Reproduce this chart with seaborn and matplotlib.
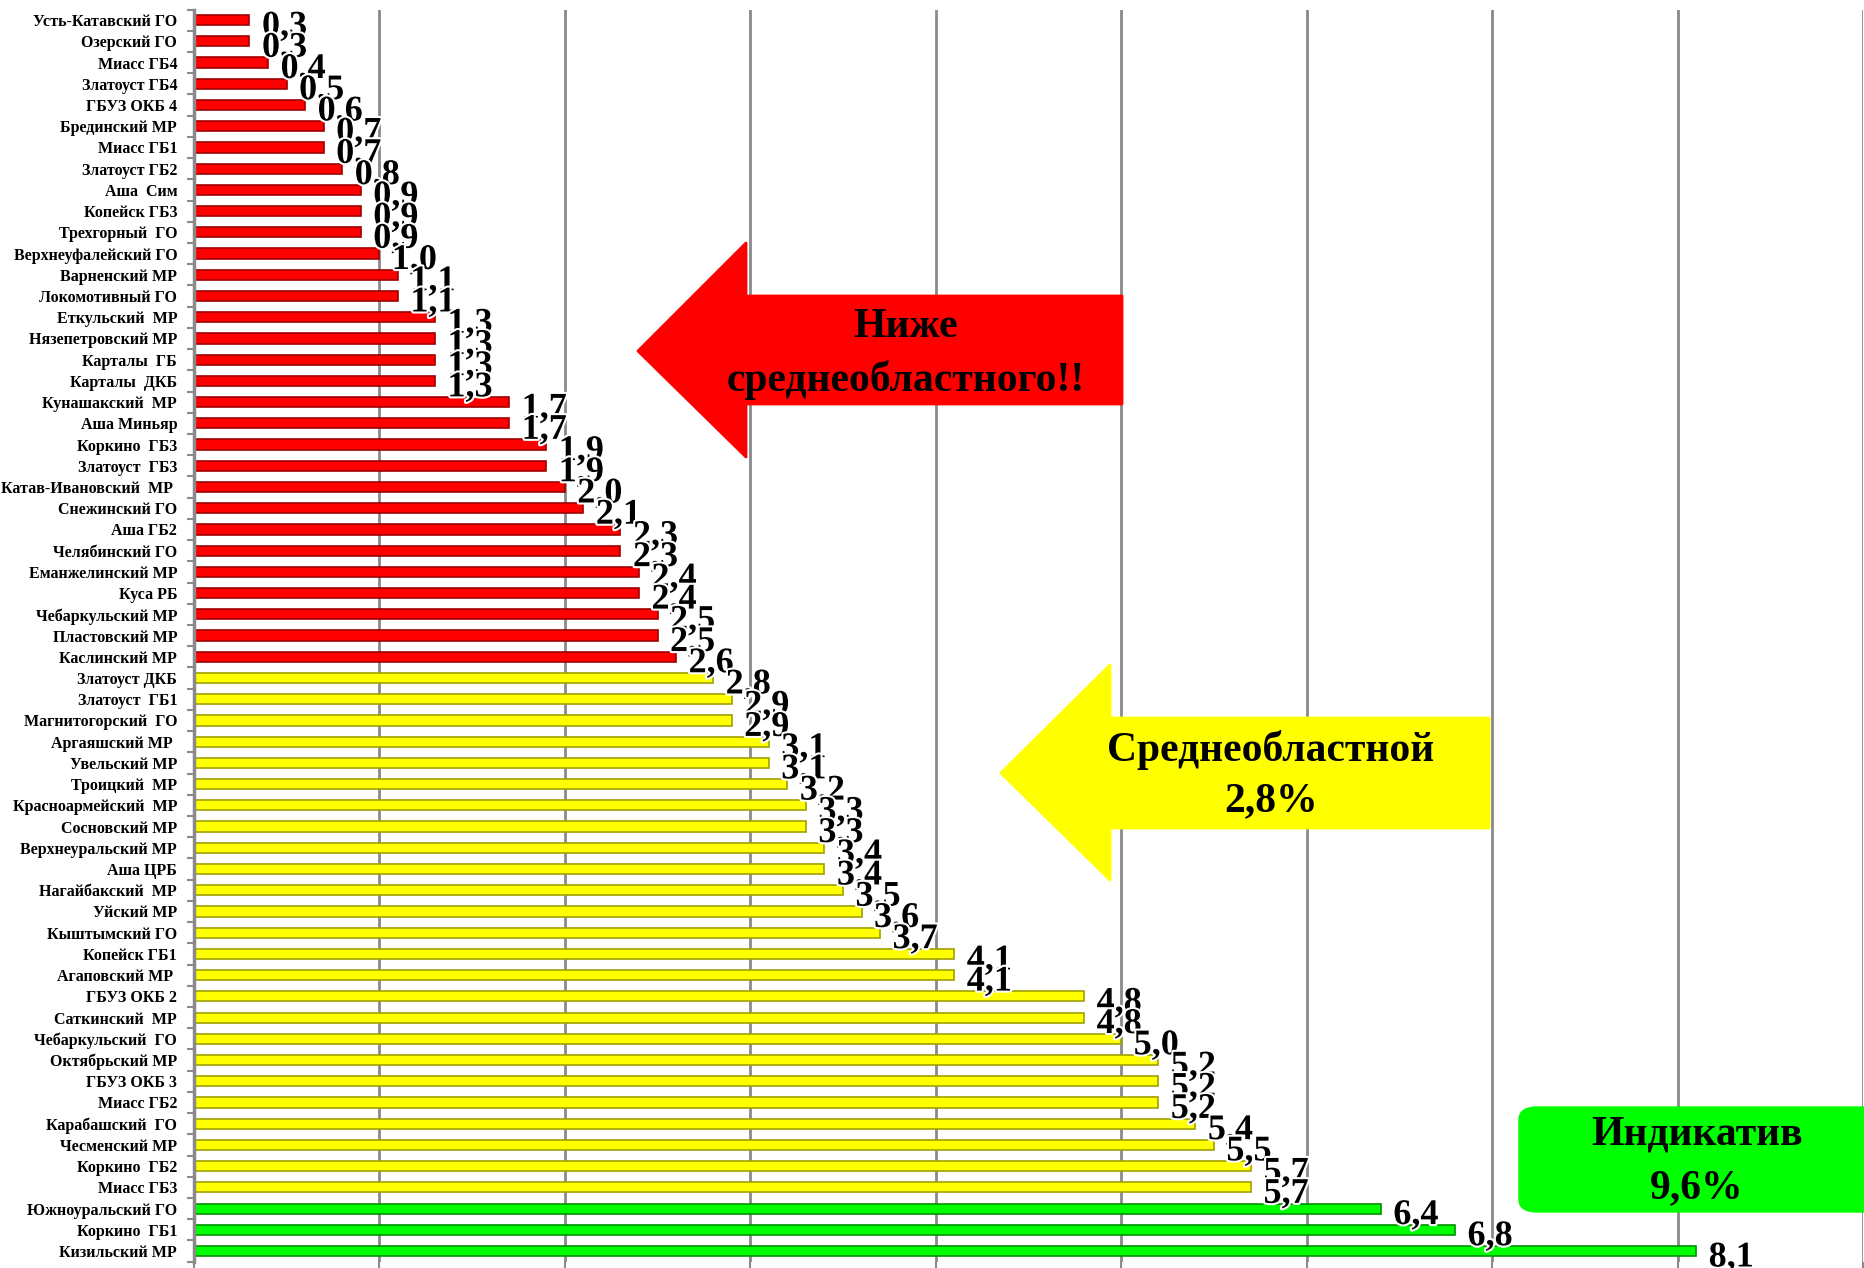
import matplotlib
matplotlib.use("Agg")
import matplotlib.pyplot as plt
import matplotlib.patheffects as pe
from matplotlib.patches import Polygon, FancyBboxPatch
import pandas as pd
import seaborn as sns

# data
names = ['Усть-Катавский ГО', 'Озерский ГО', 'Миасс ГБ4', 'Златоуст ГБ4', 'ГБУЗ ОКБ 4',
         'Брединский МР', 'Миасс ГБ1', 'Златоуст ГБ2', 'Аша  Сим', 'Копейск ГБ3',
         'Трехгорный  ГО', 'Верхнеуфалейский ГО', 'Варненский МР', 'Локомотивный ГО',
         'Еткульский  МР', 'Нязепетровский МР', 'Карталы  ГБ', 'Карталы  ДКБ',
         'Кунашакский  МР', 'Аша Миньяр', 'Коркино  ГБ3', 'Златоуст  ГБ3',
         'Катав-Ивановский  МР ', 'Снежинский ГО', 'Аша ГБ2', 'Челябинский ГО',
         'Еманжелинский МР', 'Куса РБ', 'Чебаркульский МР', 'Пластовский МР',
         'Каслинский МР', 'Златоуст ДКБ', 'Златоуст  ГБ1', 'Магнитогорский  ГО',
         'Аргаяшский МР ', 'Увельский МР', 'Троицкий  МР', 'Красноармейский  МР',
         'Сосновский МР', 'Верхнеуральский МР', 'Аша ЦРБ', 'Нагайбакский  МР',
         'Уйский МР', 'Кыштымский ГО', 'Копейск ГБ1', 'Агаповский МР ',
         'ГБУЗ ОКБ 2', 'Саткинский  МР', 'Чебаркульский  ГО', 'Октябрьский МР',
         'ГБУЗ ОКБ 3', 'Миасс ГБ2', 'Карабашский  ГО', 'Чесменский МР',
         'Коркино  ГБ2', 'Миасс ГБ3', 'Южноуральский ГО', 'Коркино  ГБ1',
         'Кизильский МР']
values = [0.3, 0.3, 0.4, 0.5, 0.6, 0.7, 0.7, 0.8, 0.9, 0.9,
          0.9, 1.0, 1.1, 1.1, 1.3, 1.3, 1.3, 1.3, 1.7, 1.7,
          1.9, 1.9, 2.0, 2.1, 2.3, 2.3, 2.4, 2.4, 2.5, 2.5,
          2.6, 2.8, 2.9, 2.9, 3.1, 3.1, 3.2, 3.3, 3.3, 3.4,
          3.4, 3.5, 3.6, 3.7, 4.1, 4.1, 4.8, 4.8, 5.0, 5.2,
          5.2, 5.2, 5.4, 5.5, 5.7, 5.7, 6.4, 6.8, 8.1]
groups = ['low'] * 31 + ['mid'] * 25 + ['high'] * 3

palette = {'low': '#FF0000', 'mid': '#FFFF00', 'high': '#00FF00'}
edges = {'low': '#A00000', 'mid': '#A0A000', 'high': '#009000'}

df = pd.DataFrame({'name': names, 'value': values, 'group': groups})

sns.set_style("white")
plt.rcParams['font.family'] = ['Liberation Serif', 'DejaVu Serif']
plt.rcParams['text.color'] = 'black'
plt.rcParams['ytick.color'] = 'black'

fig = plt.figure(figsize=(18.64, 12.68), dpi=100)
ax = fig.add_axes([0.104, 0.005, 0.8955, 0.9875])

sns.barplot(data=df, x='value', y='name', hue='group', palette=palette,
            saturation=1, dodge=False, width=0.48, legend=False, ax=ax, orient='h')

# darker rim on the bars for a bit of the 3D look
rev = {v.lower(): k for k, v in palette.items()}
for p in ax.patches:
    fc = matplotlib.colors.to_hex(p.get_facecolor()).lower()
    if fc in rev:
        p.set_edgecolor(edges[rev[fc]])
        p.set_linewidth(1.2)

ax.set_xlim(0, 9)
ax.set_ylim(len(names) - 0.5, -0.5)
ax.set_xticks(range(0, 10))
ax.set_xticklabels([])
ax.xaxis.grid(True, color='#8a8a8a', linewidth=2)
ax.set_axisbelow(True)
ax.set_xlabel('')
ax.set_ylabel('')

for s in ['top', 'right', 'bottom']:
    ax.spines[s].set_visible(False)
ax.spines['left'].set_color('#8a8a8a')
ax.spines['left'].set_linewidth(2.5)

ax.set_yticks([i + 0.5 for i in range(-1, len(names))], minor=True)
ax.tick_params(axis='y', which='minor', length=5, color='#8a8a8a', width=1.5, left=True)
ax.tick_params(axis='y', which='major', length=0, pad=12)
ax.tick_params(axis='x', which='major', length=7, color='#8a8a8a', width=1.5, bottom=True)
for lab in ax.get_yticklabels():
    lab.set_fontsize(11.5)
    lab.set_fontweight('bold')
    lab.set_color('black')

# value labels
for i, v in enumerate(values):
    ax.annotate(f"{v:.1f}".replace('.', ','), xy=(v, i), xytext=(9, -5),
                textcoords='offset points', ha='left', va='center',
                fontsize=26, fontweight='bold', color='black',
                path_effects=[pe.withStroke(linewidth=3, foreground='white')])

W, H = 1864.0, 1268.0


def fpts(pts):
    return [(x / W, 1 - y / H) for x, y in pts]


# red arrow
red_arrow = Polygon(fpts([(638, 351), (746, 243), (746, 296), (1122, 296),
                          (1122, 404), (746, 404), (746, 457)]),
                    closed=True, facecolor='#FF0000', edgecolor='#FF0000',
                    transform=fig.transFigure, joinstyle='round', linewidth=2)
fig.patches.append(red_arrow)
fig.text(906 / W, 1 - 327 / H, 'Ниже', ha='center', va='center',
         fontsize=30, fontweight='bold', color='black')
fig.text(906 / W, 1 - 380 / H, 'среднеобластного!!', ha='center', va='center',
         fontsize=30, fontweight='bold', color='black')

# yellow arrow
yel_arrow = Polygon(fpts([(1001, 773), (1110, 665), (1110, 718), (1489, 718),
                          (1489, 828), (1110, 828), (1110, 880)]),
                    closed=True, facecolor='#FFFF00', edgecolor='#FFFF00',
                    transform=fig.transFigure, joinstyle='round', linewidth=2)
fig.patches.append(yel_arrow)
fig.text(1271 / W, 1 - 750 / H, 'Среднеобластной', ha='center', va='center',
         fontsize=30, fontweight='bold', color='black')
fig.text(1271 / W, 1 - 801 / H, '2,8%', ha='center', va='center',
         fontsize=30, fontweight='bold', color='black')

# green box
gbox = FancyBboxPatch((1519 / W, 1 - 1212 / H), 400 / W, 105 / H,
                      boxstyle='round,pad=0,rounding_size=0.01',
                      facecolor='#00FF00', edgecolor='#00FF00',
                      transform=fig.transFigure)
fig.patches.append(gbox)
fig.text(1697 / W, 1 - 1135 / H, 'Индикатив', ha='center', va='center',
         fontsize=30, fontweight='bold', color='black')
fig.text(1697 / W, 1 - 1188 / H, '9,6%', ha='center', va='center',
         fontsize=30, fontweight='bold', color='black')

fig.savefig('out.png', dpi=100)
